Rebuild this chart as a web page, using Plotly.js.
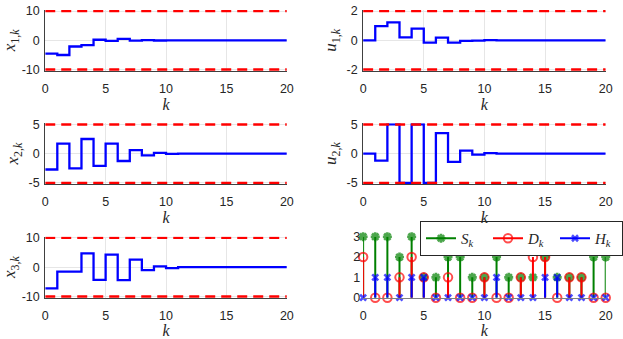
<!DOCTYPE html>
<html><head><meta charset="utf-8">
<script src="https://cdn.plot.ly/plotly-3.0.1.min.js"></script>
<style>html,body{margin:0;padding:0;background:#fff}#plot{width:623px;height:339px}</style>
</head><body><div id="plot"></div>
<script>
const k = [0,1,2,3,4,5,6,7,8,9,10,11,12,13,14,15,16,17,18,19,20];
const x1 = [-4.5,-5.0,-2.1,-1.6,0.2,-0.2,0.5,-0.1,0.1,-0.05,0.02,0,0,0,0,0,0,0,0,0,0];
const u1 = [0,0.97,1.22,0.2,0.8,-0.15,0.18,-0.15,-0.04,-0.02,0.01,0,0,0,0,0,0,0,0,0,0];
const x2 = [-2.7,1.7,-2.5,2.5,-2.1,1.7,-1.25,0.6,-0.3,0.12,-0.05,0.02,0,0,0,0,0,0,0,0,0];
const u2 = [0,-1.2,5,-5,5,-5,3.5,-1.4,0.5,-0.15,0.1,0.02,0,0,0,0,0,0,0,0,0];
const x3 = [-7.2,-1.5,-1.5,4.7,-4.3,4.3,-4.4,2.6,-1.0,0.3,-0.3,0.05,0,0,0,0,0,0,0,0,0];
const S = [3,3,3,2,3,1,1,2,2,1,1,2,1,1,1,2,1,1,1,2,2];
const D = [2,0,0,1,2,1,0,1,0,0,1,0,0,1,2,2,0,1,1,0,0];
const H = [0,1,1,0,1,1,0,0,0,0,0,1,0,0,0,1,1,0,0,0,0];
const bx1 = 10, bu1 = 2, bx2 = 5, bu2 = 5, bx3 = 10;
const xTicks = [0,5,10,15,20];
const xTickText = ['0','5','10','15','20'];
const stemTicks = [0,1,2,3];

const textColor = '#262626';
const tickFont = {family:'Liberation Sans, Arial, sans-serif', size:12.5, color:textColor};
const titleFont = {family:'Liberation Serif, serif', size:16, color:textColor};

const traces = [];
function stairs(vals, b, n) {
  traces.push({x:k, y:vals, xaxis:'x'+n, yaxis:'y'+n, mode:'lines', line:{shape:'hv', color:'#0000FF', width:2.3}, showlegend:false, hoverinfo:'skip'});
  traces.push({x:[0,20,null,0,20], y:[b,b,null,-b,-b], xaxis:'x'+n, yaxis:'y'+n, mode:'lines', line:{color:'#FF0000', width:2.6, dash:'10px,6px'}, showlegend:false, hoverinfo:'skip'});
}
stairs(x1, bx1, 1);
stairs(u1, bu1, 2);
stairs(x2, bx2, 3);
stairs(u2, bu2, 4);
stairs(x3, bx3, 5);

function stem(vals, color, symbol, size, lw, name) {
  const xs=[], ys=[], sz=[];
  k.forEach((kk,i)=>{ xs.push(kk,kk,null); ys.push(0, vals[i], null); sz.push(0, size, 2*size); });
  traces.push({x:xs, y:ys, xaxis:'x6', yaxis:'y6', mode:'lines+markers', name:name, cliponaxis:false,
    line:{color:color, width:2}, marker:{symbol:symbol, size:sz, color:color, line:{color:color, width:lw}}, hoverinfo:'skip'});
}
stem(S, '#008000', 'asterisk-open', 7.5, 2.6, '<i>S</i><sub><i>k</i></sub>');
stem(D, '#FF0000', 'circle-open', 8.5, 2, '<i>D</i><sub><i>k</i></sub>');
stem(H, '#0000FF', 'x-thin-open', 6, 2.6, '<i>H</i><sub><i>k</i></sub>');

const colL = [45.3/623, 287.3/623];
const colR = [363.7/623, 606.7/623];
const row1 = [1-70.7/339, 1-10/339];
const row2 = [1-184/339, 1-123.3/339];
const row3 = [1-297.7/339, 1-236.7/339];

function xax(dom, anchor, grid) {
  return {domain:dom, anchor:anchor, range:[0,20], tickvals:xTicks, ticktext:xTickText, showgrid:grid, gridcolor:'#e6e6e6', gridwidth:1,
    showline:true, linecolor: grid ? '#404040' : '#808080', linewidth:1, zeroline:false, ticks:'', tickfont:tickFont, automargin:false,
    ticklabelstandoff:6, title:{text:'<i>k</i>', font:titleFont, standoff:0}, fixedrange:true};
}
function yax(dom, anchor, b, title) {
  const p = b*0.035;
  return {domain:dom, anchor:anchor, range:[-b-p, b+p], tickvals:[-b,0,b], ticktext:['-'+b,'0',String(b)],
    showgrid:true, gridcolor:'#e6e6e6', gridwidth:1, showline:true, linecolor:'#404040', linewidth:1, zeroline:false, ticks:'', automargin:false,
    ticklabelstandoff:2, tickfont:tickFont, title:{text:title, font:{family:'Liberation Serif, serif', size:17, color:textColor}, standoff:5}, fixedrange:true};
}

const layout = {
  width:623, height:339, margin:{l:0,r:0,t:0,b:0}, paper_bgcolor:'#fff', plot_bgcolor:'#fff', showlegend:true,
  xaxis: xax(colL,'y',true), yaxis: yax(row1,'x',bx1,'<i>x</i><sub>1,<i>k</i></sub>'),
  xaxis2: xax(colR,'y2',true), yaxis2: yax(row1,'x2',bu1,'<i>u</i><sub>1,<i>k</i></sub>'),
  xaxis3: xax(colL,'y3',true), yaxis3: yax(row2,'x3',bx2,'<i>x</i><sub>2,<i>k</i></sub>'),
  xaxis4: xax(colR,'y4',true), yaxis4: yax(row2,'x4',bu2,'<i>u</i><sub>2,<i>k</i></sub>'),
  xaxis5: xax(colL,'y5',true), yaxis5: yax(row3,'x5',bx3,'<i>x</i><sub>3,<i>k</i></sub>'),
  xaxis6: xax(colR,'y6',false),
  yaxis6: {domain:row3, anchor:'x6', range:[0,3], tickvals:stemTicks, showgrid:false, showline:false, zeroline:false, ticks:'', tickfont:tickFont, automargin:false, ticklabelstandoff:2, fixedrange:true},
  legend:{orientation:'h', x:421/623, y:1-221/339, xanchor:'left', yanchor:'top', bgcolor:'#fff', bordercolor:'#262626', borderwidth:1,
    font:{family:'Liberation Serif, serif', size:15, color:textColor}, entrywidth:22, tracegroupgap:0}
};
Plotly.newPlot('plot', traces, layout, {staticPlot:true, displayModeBar:false});
</script></body></html>
